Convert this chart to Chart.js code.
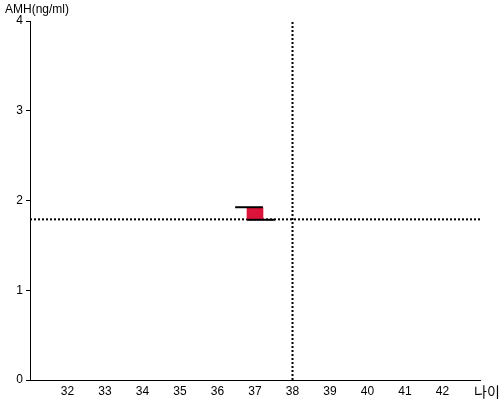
<!DOCTYPE html>
<html>
<head>
<meta charset="utf-8">
<script src="https://cdn.jsdelivr.net/npm/chart.js@4.4.0/dist/chart.umd.min.js"></script>
<style>
html,body{margin:0;padding:0;background:#fff;}
#wrap{width:500px;height:400px;}
</style>
</head>
<body>
<div id="wrap"><canvas id="c" width="500" height="400"></canvas></div>
<script>
// ---- data ----
var ageTicks=[32,33,34,35,36,37,38,39,40,41,42];
var amhTicks=[0,1,2,3,4];
var barAges=[37];
var barRanges=[[1.79,1.92]];
var topLineAges=[36.47,37.21];
var topLineAmh=[1.925,1.925];
var bottomLineAges=[36.79,37.53];
var bottomLineAmh=[1.785,1.785];
var refAge=38;
var refAmh=1.79;
var xLabel='나이';
var yLabel='AMH(ng/ml)';

function pts(xs,ys){return xs.map(function(x,i){return {x:x,y:ys[i]};});}

/* axis labels drawn as text on the canvas */
var axisLabels={
    id:'axisLabels',
    afterDraw:function(chart){
        var ctx=chart.ctx;ctx.save();
        ctx.fillStyle='#000';
        ctx.font='12px "Liberation Sans", Arial, sans-serif';
        ctx.textAlign='left';ctx.textBaseline='top';
        ctx.fillText(yLabel,5,4);
        ctx.font='14px "Noto Sans CJK KR", sans-serif';
        ctx.textBaseline='middle';
        ctx.fillText(xLabel,chart.chartArea.right-6,chart.chartArea.bottom+12);
        ctx.restore();
    }
};

new Chart(document.getElementById('c'),{
    type:'bar',
    data:{
        datasets:[
            {type:'line',data:pts(topLineAges,topLineAmh),borderColor:'#000',borderWidth:2,pointRadius:0,order:1},
            {type:'line',data:pts(bottomLineAges,bottomLineAmh),borderColor:'#000',borderWidth:2,pointRadius:0,order:1},
            {type:'bar',data:barAges.map(function(a,i){return {x:a,y:barRanges[i]};}),backgroundColor:'#DC143C',borderWidth:0,barThickness:16,order:2},
            {type:'line',data:[{x:31,y:refAmh},{x:43,y:refAmh}],borderColor:'#000',borderWidth:2,borderDash:[2,2],pointRadius:0,order:3},
            {type:'line',data:[{x:refAge,y:0},{x:refAge,y:4}],borderColor:'#000',borderWidth:2,borderDash:[2,2],pointRadius:0,order:3}
        ]
    },
    options:{
        responsive:false,animation:false,
        layout:{padding:{left:0,top:21,right:20,bottom:0}},
        plugins:{legend:{display:false},tooltip:{enabled:false}},
        scales:{
            x:{type:'linear',min:31,max:43,offset:false,
                afterBuildTicks:function(s){s.ticks=ageTicks.map(function(v){return {value:v};});},
                afterFit:function(s){s.height=20;},
                grid:{display:false,drawTicks:false,offset:false},
                border:{display:true,color:'#000',width:1},
                ticks:{color:'#000',padding:4,maxRotation:0,autoSkip:false,font:{family:'"Liberation Sans", Arial, sans-serif',size:12}}
            },
            y:{type:'linear',min:0,max:4,
                afterBuildTicks:function(s){s.ticks=amhTicks.map(function(v){return {value:v};});},
                afterFit:function(s){s.width=30;},
                grid:{drawOnChartArea:false,drawTicks:true,tickLength:4,color:'#000'},
                border:{display:true,color:'#000',width:1},
                ticks:{color:'#000',padding:3,font:{family:'"Liberation Sans", Arial, sans-serif',size:12}}
            }
        }
    },
    plugins:[axisLabels]
});
</script>
</body>
</html>
